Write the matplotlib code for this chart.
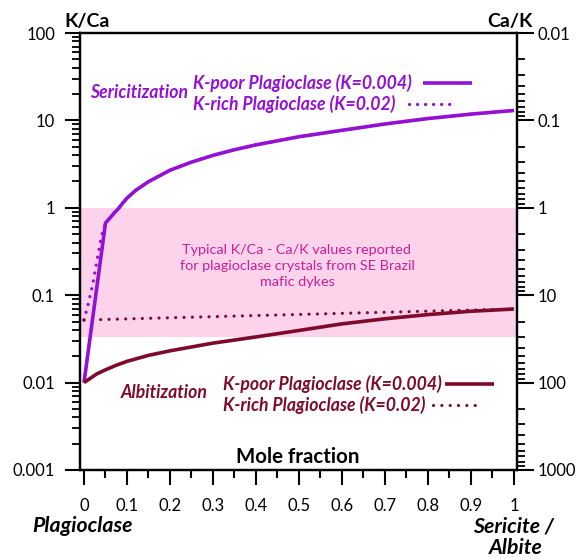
import matplotlib
matplotlib.use("Agg")
import matplotlib.pyplot as plt
from matplotlib.lines import Line2D
from matplotlib.ticker import FixedLocator, LogLocator, FuncFormatter, NullFormatter, MultipleLocator

plt.rcParams['font.family'] = ['Lato', 'DejaVu Sans']

# ---- data -------------------------------------------------------------
# Sericitization, K-poor plagioclase (K=0.004)
ser_poor_frac = [0, 0.05, 0.06, 0.07, 0.08, 0.09, 0.10, 0.12, 0.15, 0.20,
                 0.25, 0.30, 0.35, 0.40, 0.50, 0.60, 0.70, 0.80, 0.90, 1.00]
ser_poor_kca = [0.010, 0.67, 0.76, 0.87, 0.98, 1.13, 1.29, 1.58, 1.99,
                2.69, 3.33, 3.98, 4.62, 5.25, 6.5, 7.7, 9.1, 10.5, 11.8,
                13.0]
# Sericitization, K-rich plagioclase (K=0.02)
ser_rich_frac = [0, 0.01, 0.02, 0.03, 0.04, 0.05, 0.06, 0.07, 0.08, 0.09,
                 0.10, 0.12, 0.15, 0.20, 0.25, 0.30, 0.35, 0.40, 0.50, 0.60,
                 0.70, 0.80, 0.90, 1.00]
ser_rich_kca = [0.052, 0.080, 0.131, 0.245, 0.464, 0.67, 0.76, 0.87, 0.98,
                1.13, 1.29, 1.58, 1.99, 2.69, 3.33, 3.98, 4.62, 5.25, 6.5,
                7.7, 9.1, 10.5, 11.8, 13.0]
# Albitization, K-poor plagioclase (K=0.004)
alb_poor_frac = [0, 0.03, 0.05, 0.075, 0.10, 0.15, 0.20, 0.30, 0.40, 0.50,
                 0.60, 0.70, 0.80, 0.90, 1.00]
alb_poor_kca = [0.0100, 0.0126, 0.0140, 0.0158, 0.0175, 0.0205, 0.0231,
                0.0283, 0.0333, 0.0395, 0.0470, 0.0537, 0.0600, 0.0655,
                0.0695]
# Albitization, K-rich plagioclase (K=0.02)
alb_rich_frac = [0, 0.2, 0.4, 0.6, 0.8, 1.0]
alb_rich_kca = [0.052, 0.0552, 0.0585, 0.0620, 0.0657, 0.0695]

# Typical range reported for the dyke plagioclase (K/Ca)
typical_range = [0.033, 1.0]

x_ticks = [0, 0.1, 0.2, 0.3, 0.4, 0.5, 0.6, 0.7, 0.8, 0.9, 1]
x_tick_labels = ["0", "0.1", "0.2", "0.3", "0.4", "0.5", "0.6", "0.7",
                 "0.8", "0.9", "1"]
kca_ticks = [0.001, 0.01, 0.1, 1, 10, 100]
kca_labels = ["0.001", "0.01", "0.1", "1", "10", "100"]
cak_ticks = [0.01, 0.1, 1, 10, 100, 1000]
cak_labels = ["0.01", "0.1", "1", "10", "100", "1000"]

# ---- style ------------------------------------------------------------
PURPLE = "#9410d4"
DARKRED = "#7e0a2c"
BAND = "#fdd3eb"
BAND_TEXT = "#c91f97"

W, H = 581, 560
fig = plt.figure(figsize=(W / 100, H / 100), dpi=100)


def fx(x):
    return x / W


def fy(y):
    return 1 - y / H


ax = fig.add_axes([fx(80), fy(470), fx(517) - fx(80), fy(33) - fy(470)])
ax.set_yscale("log")
ax.set_ylim(0.001, 100)
ax.set_xlim(-0.0093, 1.007)

ax.axhspan(typical_range[0], typical_range[1], color=BAND, lw=0, zorder=0)

dot_purple = (0, (0.01, 2.4))
dot_red = (0, (0.01, 2.6))
ax.plot(ser_rich_frac, ser_rich_kca, color=PURPLE, lw=2.4, ls=dot_purple,
        dash_capstyle="round", zorder=3)
ax.plot(ser_poor_frac, ser_poor_kca, color=PURPLE, lw=2.6,
        solid_capstyle="butt", solid_joinstyle="round", zorder=4)
ax.plot(alb_rich_frac, alb_rich_kca, color=DARKRED, lw=2.3, ls=dot_red,
        dash_capstyle="round", zorder=3)
ax.plot(alb_poor_frac, alb_poor_kca, color=DARKRED, lw=2.6,
        solid_capstyle="butt", solid_joinstyle="round", zorder=4)

for s in ax.spines.values():
    s.set_linewidth(1.6)

# x axis
ax.xaxis.set_major_locator(FixedLocator(x_ticks))
ax.set_xticklabels(x_tick_labels)
ax.xaxis.set_minor_locator(MultipleLocator(0.05))
ax.tick_params(axis="x", which="major", direction="out", length=11,
               width=1.5, labelsize=12, pad=9)
ax.tick_params(axis="x", which="minor", direction="out", length=6, width=1.5)

# left axis (K/Ca)
ax.yaxis.set_major_locator(FixedLocator(kca_ticks))
ax.yaxis.set_major_formatter(FuncFormatter(
    lambda v, p: dict(zip(kca_ticks, kca_labels)).get(v, "")))
ax.yaxis.set_minor_locator(LogLocator(base=10, subs=range(2, 10)))
ax.yaxis.set_minor_formatter(NullFormatter())
ax.tick_params(axis="y", which="major", direction="out", length=11,
               width=1.5, labelsize=12, pad=7)
ax.tick_params(axis="y", which="minor", direction="out", length=6, width=1.3)

# right axis (Ca/K)
ax2 = ax.twinx()
ax2.set_yscale("log")
ax2.set_ylim(1000, 0.01)
ax2.yaxis.set_major_locator(FixedLocator(cak_ticks))
ax2.yaxis.set_major_formatter(FuncFormatter(
    lambda v, p: dict(zip(cak_ticks, cak_labels)).get(v, "")))
ax2.yaxis.set_minor_locator(LogLocator(base=10, subs=range(2, 10)))
ax2.yaxis.set_minor_formatter(NullFormatter())
ax2.tick_params(axis="y", which="major", direction="out", length=12,
                width=1.5, labelsize=12, pad=3)
ax2.tick_params(axis="y", which="minor", direction="out", length=6, width=1.3)
for s in ax2.spines.values():
    s.set_linewidth(1.6)

# axis titles
fig.text(fx(87), fy(22), "K/Ca", ha="center", va="center", fontsize=14,
         fontweight="bold")
fig.text(fx(510), fy(22), "Ca/K", ha="center", va="center", fontsize=14,
         fontweight="bold")
fig.text(fx(298), fy(457), "Mole fraction", ha="center", va="center",
         fontsize=14.8, fontweight="bold")
fig.text(fx(82), fy(526), "Plagioclase", ha="center", va="center",
         fontsize=15.3, fontweight="bold", style="italic")
fig.text(fx(513), fy(526), "Sericite /", ha="center", va="center",
         fontsize=15.3, fontweight="bold", style="italic")
fig.text(fx(516), fy(548), "Albite", ha="center", va="center",
         fontsize=15.3, fontweight="bold", style="italic")

# band annotation
fig.text(fx(297), fy(266),
         "Typical K/Ca - Ca/K values reported\n"
         "for plagioclase crystals from SE Brazil\nmafic dykes",
         ha="center", va="center", fontsize=10.4, color=BAND_TEXT,
         linespacing=1.4)

# in-plot keys
kw = dict(fontsize=12.7, fontweight="bold", style="italic", va="center")
fig.text(fx(139), fy(92), "Sericitization", ha="center", color=PURPLE, **kw)
fig.text(fx(193), fy(83), "K-poor Plagioclase (K=0.004)", ha="left",
         color=PURPLE, **kw)
fig.text(fx(193), fy(104), "K-rich Plagioclase (K=0.02)", ha="left",
         color=PURPLE, **kw)
fig.text(fx(164), fy(393), "Albitization", ha="center", color=DARKRED, **kw)
fig.text(fx(223), fy(384), "K-poor Plagioclase (K=0.004)", ha="left",
         color=DARKRED, **kw)
fig.text(fx(223), fy(405), "K-rich Plagioclase (K=0.02)", ha="left",
         color=DARKRED, **kw)

fig.add_artist(Line2D([fx(423), fx(472)], [fy(82.5), fy(82.5)],
                      color=PURPLE, lw=2.6, solid_capstyle="butt"))
fig.add_artist(Line2D([fx(409), fx(455)], [fy(104), fy(104)],
                      color=PURPLE, lw=2.4, ls=dot_purple,
                      dash_capstyle="round"))
fig.add_artist(Line2D([fx(445), fx(494)], [fy(384), fy(384)],
                      color=DARKRED, lw=2.6, solid_capstyle="butt"))
fig.add_artist(Line2D([fx(433), fx(475)], [fy(405), fy(405)],
                      color=DARKRED, lw=2.3, ls=dot_red,
                      dash_capstyle="round"))

fig.savefig("out.png", dpi=100)
